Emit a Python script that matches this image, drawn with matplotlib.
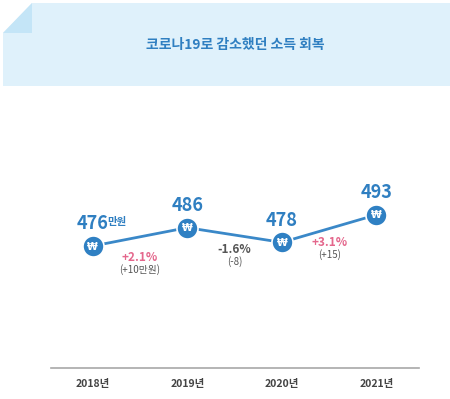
import matplotlib
matplotlib.use("Agg")
import matplotlib.pyplot as plt
from matplotlib.patches import Polygon

plt.rcParams['font.family'] = ['Noto Sans CJK KR', 'DejaVu Sans']

years = ["2018년", "2019년", "2020년", "2021년"]
values = [476, 486, 478, 493]
value_suffix = ["만원", "", "", ""]
change_pct = ["+2.1%", "-1.6%", "+3.1%"]
change_abs = ["(+10만원)", "(-8)", "(+15)"]
title = "코로나19로 감소했던 소득 회복"

W, H = 450, 399
fig = plt.figure(figsize=(W / 100, H / 100), dpi=100)

# banner
bg = fig.add_axes([0, 0, 1, 1])
bg.set_xlim(0, W)
bg.set_ylim(H, 0)
bg.axis("off")
bg.add_patch(Polygon([(32, 3), (450, 3), (450, 86), (3, 86), (3, 33)], closed=True,
                     facecolor="#dff1fb", edgecolor="none"))
bg.add_patch(Polygon([(32, 3), (32, 33), (3, 33)], closed=True,
                     facecolor="#c4e5f7", edgecolor="none"))
bg.text(235, 45, title, ha="center", va="center", fontsize=10, fontweight="bold",
        color="#2f7fc1")

# main axes
left, right = 51 / W, 419 / W
bottom, top = 1 - 368 / H, 1 - 100 / H
ax = fig.add_axes([left, bottom, right - left, top - bottom])
ax.set_xlim(-0.44, 3.45)
ax.set_ylim(409.6, 555.5)
for s in ["top", "right", "left"]:
    ax.spines[s].set_visible(False)
ax.spines["bottom"].set_color("#a8a8a8")
ax.spines["bottom"].set_linewidth(1.2)
ax.set_yticks([])
x = list(range(len(years)))
ax.set_xticks(x)
ax.set_xticklabels(years, fontsize=7.5, fontweight="bold", color="#444444")
ax.tick_params(axis="x", length=0, pad=8)
ax.patch.set_alpha(0)

line_color = "#3a88c8"
ax.plot(x, values, color=line_color, lw=2, zorder=2)
ax.scatter(x, values, s=230, color="#2f80c3", edgecolor="white", linewidth=1.2, zorder=3)
for xi, v in zip(x, values):
    ax.text(xi, v - 0.3, "₩", ha="center", va="center", fontsize=7, fontweight="bold",
            color="white", family="DejaVu Sans", zorder=4)

# value labels
for xi, v, suf in zip(x, values, value_suffix):
    ax.annotate(str(v), (xi, v), xytext=(0, 16), textcoords="offset points",
                ha="center", va="center", fontsize=13, fontweight="bold", color="#2f7fc1")
    if suf:
        ax.annotate(suf, (xi, v), xytext=(10.5, 17), textcoords="offset points",
                    ha="left", va="center", fontsize=7.5, fontweight="bold", color="#2f7fc1")

# change labels
pct_offsets = [-15, -10.5, -10]
for i in range(3):
    xm = (x[i] + x[i + 1]) / 2
    c = "#e4678c" if change_pct[i].startswith("+") else "#555555"
    vm = (values[i] + values[i + 1]) / 2
    ax.annotate(change_pct[i], (xm, vm), xytext=(0, pct_offsets[i]), textcoords="offset points",
                ha="center", va="center", fontsize=8.5, color=c, fontweight="bold")
    ax.annotate(change_abs[i], (xm, vm), xytext=(0, pct_offsets[i] - 8.5),
                textcoords="offset points",
                ha="center", va="center", fontsize=7, color="#555555")

fig.savefig("out.png", dpi=100)
